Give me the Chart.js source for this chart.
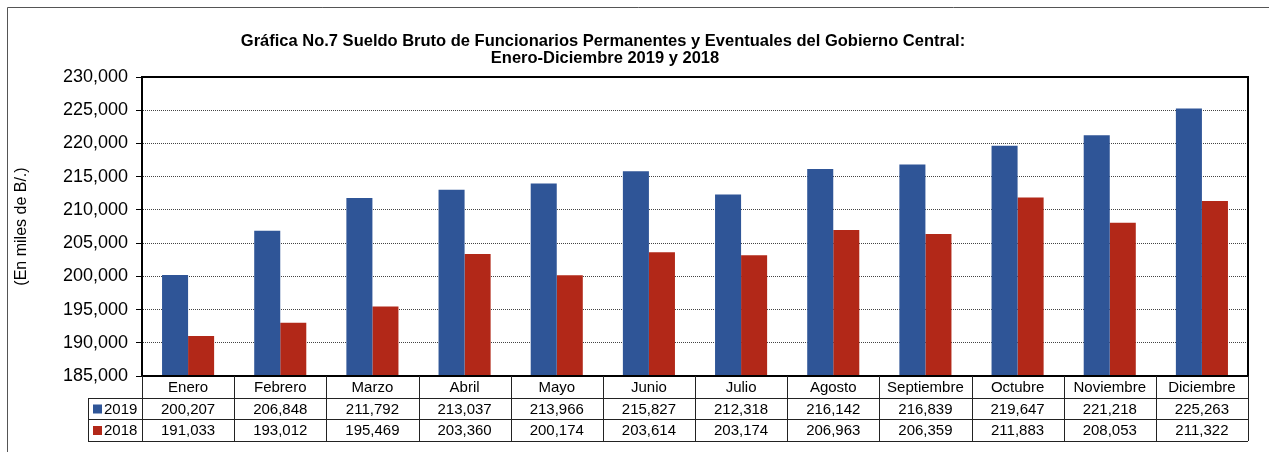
<!DOCTYPE html>
<html>
<head>
<meta charset="utf-8">
<script src="https://cdn.jsdelivr.net/npm/chart.js@4.4.0/dist/chart.umd.min.js"></script>
<style>
  html, body { margin: 0; padding: 0; background: #fff; }
</style>
</head>
<body>
<canvas id="grafica-7" width="1269" height="452"></canvas>
<script>
// Data
const months = ['Enero', 'Febrero', 'Marzo', 'Abril', 'Mayo', 'Junio', 'Julio',
  'Agosto', 'Septiembre', 'Octubre', 'Noviembre', 'Diciembre'];
const sueldo2019 = [200207, 206848, 211792, 213037, 213966, 215827, 212318, 216142, 216839, 219647, 221218, 225263];
const sueldo2018 = [191033, 193012, 195469, 203360, 200174, 203614, 203174, 206963, 206359, 211883, 208053, 211322];
const seriesNames = ['2019', '2018'];
const seriesColors = ['#2f5597', '#b22818'];
const titleLines = [
  'Gráfica No.7 Sueldo Bruto de Funcionarios Permanentes y Eventuales del Gobierno Central:',
  'Enero-Diciembre 2019 y 2018',
];
const yAxisTitle = '(En miles de B/.)';
const yMin = 185000;
const yMax = 230000;
const yStep = 5000;

const FONT = "'Liberation Sans', Arial, sans-serif";
const fmt = v => Number(v).toLocaleString('en-US');

// frame + title
const framePlugin = {
  id: 'frame',
  beforeDraw(chart) {
    const { ctx, width, height } = chart;
    ctx.save();
    ctx.fillStyle = '#fff';
    ctx.fillRect(0, 0, width, height);
    ctx.strokeStyle = '#555';
    ctx.lineWidth = 1;
    ctx.beginPath();
    ctx.moveTo(7.5, height);
    ctx.lineTo(7.5, 7.5);
    ctx.lineTo(width, 7.5);
    ctx.stroke();

    ctx.fillStyle = '#000';
    ctx.font = 'bold 16.5px ' + FONT;
    ctx.textAlign = 'center';
    ctx.textBaseline = 'middle';
    ctx.fillText(titleLines[0], 603, 41);
    ctx.fillText(titleLines[1], 605, 58);
    ctx.restore();
  },
};

// data table under the plot, columns follow the x scale
const tablePlugin = {
  id: 'dataTable',
  afterDraw(chart) {
    const { ctx, chartArea: a, scales: { x } } = chart;
    const n = months.length;
    const catW = (a.right - a.left) / n;
    const rows = [a.bottom, a.bottom + 22, a.bottom + 43, a.bottom + 65];
    const legendLeft = 88;

    ctx.save();
    // plot frame
    ctx.strokeStyle = '#000';
    ctx.lineWidth = 2;
    ctx.strokeRect(a.left, a.top, a.right - a.left, a.bottom - a.top);

    ctx.strokeStyle = '#222';
    ctx.lineWidth = 1;
    ctx.beginPath();
    for (let r = 1; r < rows.length; r++) {
      const y = Math.round(rows[r]) + 0.5;
      ctx.moveTo(legendLeft, y);
      ctx.lineTo(a.right, y);
    }
    ctx.moveTo(legendLeft + 0.5, rows[1]);
    ctx.lineTo(legendLeft + 0.5, rows[3]);
    for (let i = 0; i <= n; i++) {
      const xx = Math.round(a.left + i * catW) + 0.5;
      ctx.moveTo(xx, rows[0]);
      ctx.lineTo(xx, rows[3]);
    }
    ctx.stroke();

    ctx.fillStyle = '#000';
    ctx.font = '15px ' + FONT;
    ctx.textAlign = 'center';
    ctx.textBaseline = 'middle';
    const series = [sueldo2019, sueldo2018];
    months.forEach((m, i) => {
      const cx = x.getPixelForValue(i);
      ctx.fillText(m, cx, (rows[0] + rows[1]) / 2 + 1);
      series.forEach((s, k) => {
        ctx.fillText(fmt(s[i]), cx, (rows[k + 1] + rows[k + 2]) / 2 + 1);
      });
    });

    // legend keys
    ctx.textAlign = 'left';
    seriesNames.forEach((name, k) => {
      const cy = (rows[k + 1] + rows[k + 2]) / 2;
      ctx.fillStyle = seriesColors[k];
      ctx.fillRect(93, cy - 4, 9, 9);
      ctx.fillStyle = '#000';
      ctx.fillText(name, 104, cy + 1);
    });
    ctx.restore();
  },
};

new Chart(document.getElementById('grafica-7'), {
  type: 'bar',
  data: {
    labels: months,
    datasets: [
      { label: seriesNames[0], data: sueldo2019, backgroundColor: seriesColors[0] },
      { label: seriesNames[1], data: sueldo2018, backgroundColor: seriesColors[1] },
    ],
  },
  options: {
    responsive: false,
    animation: false,
    devicePixelRatio: 1,
    layout: { padding: { top: 77, right: 21, bottom: 76, left: 0 } },
    datasets: { bar: { categoryPercentage: 0.565, barPercentage: 1, borderWidth: 0 } },
    plugins: {
      legend: { display: false },
      title: { display: false },
      tooltip: { enabled: false },
    },
    scales: {
      x: { display: false },
      y: {
        min: yMin,
        max: yMax,
        afterFit(scale) { scale.width = 142; },
        ticks: {
          stepSize: yStep,
          color: '#000',
          padding: 8,
          font: { family: FONT, size: 18 },
          callback: v => fmt(v),
        },
        grid: {
          color: '#444',
          tickLength: 6,
          tickColor: '#000',
          tickBorderDash: [],
        },
        border: { display: true, color: '#000', width: 2, dash: [1, 1] },
        title: {
          display: true,
          text: yAxisTitle,
          color: '#000',
          font: { family: FONT, size: 16 },
          padding: { top: 12, bottom: 0 },
        },
      },
    },
  },
  plugins: [framePlugin, tablePlugin],
});
</script>
</body>
</html>
